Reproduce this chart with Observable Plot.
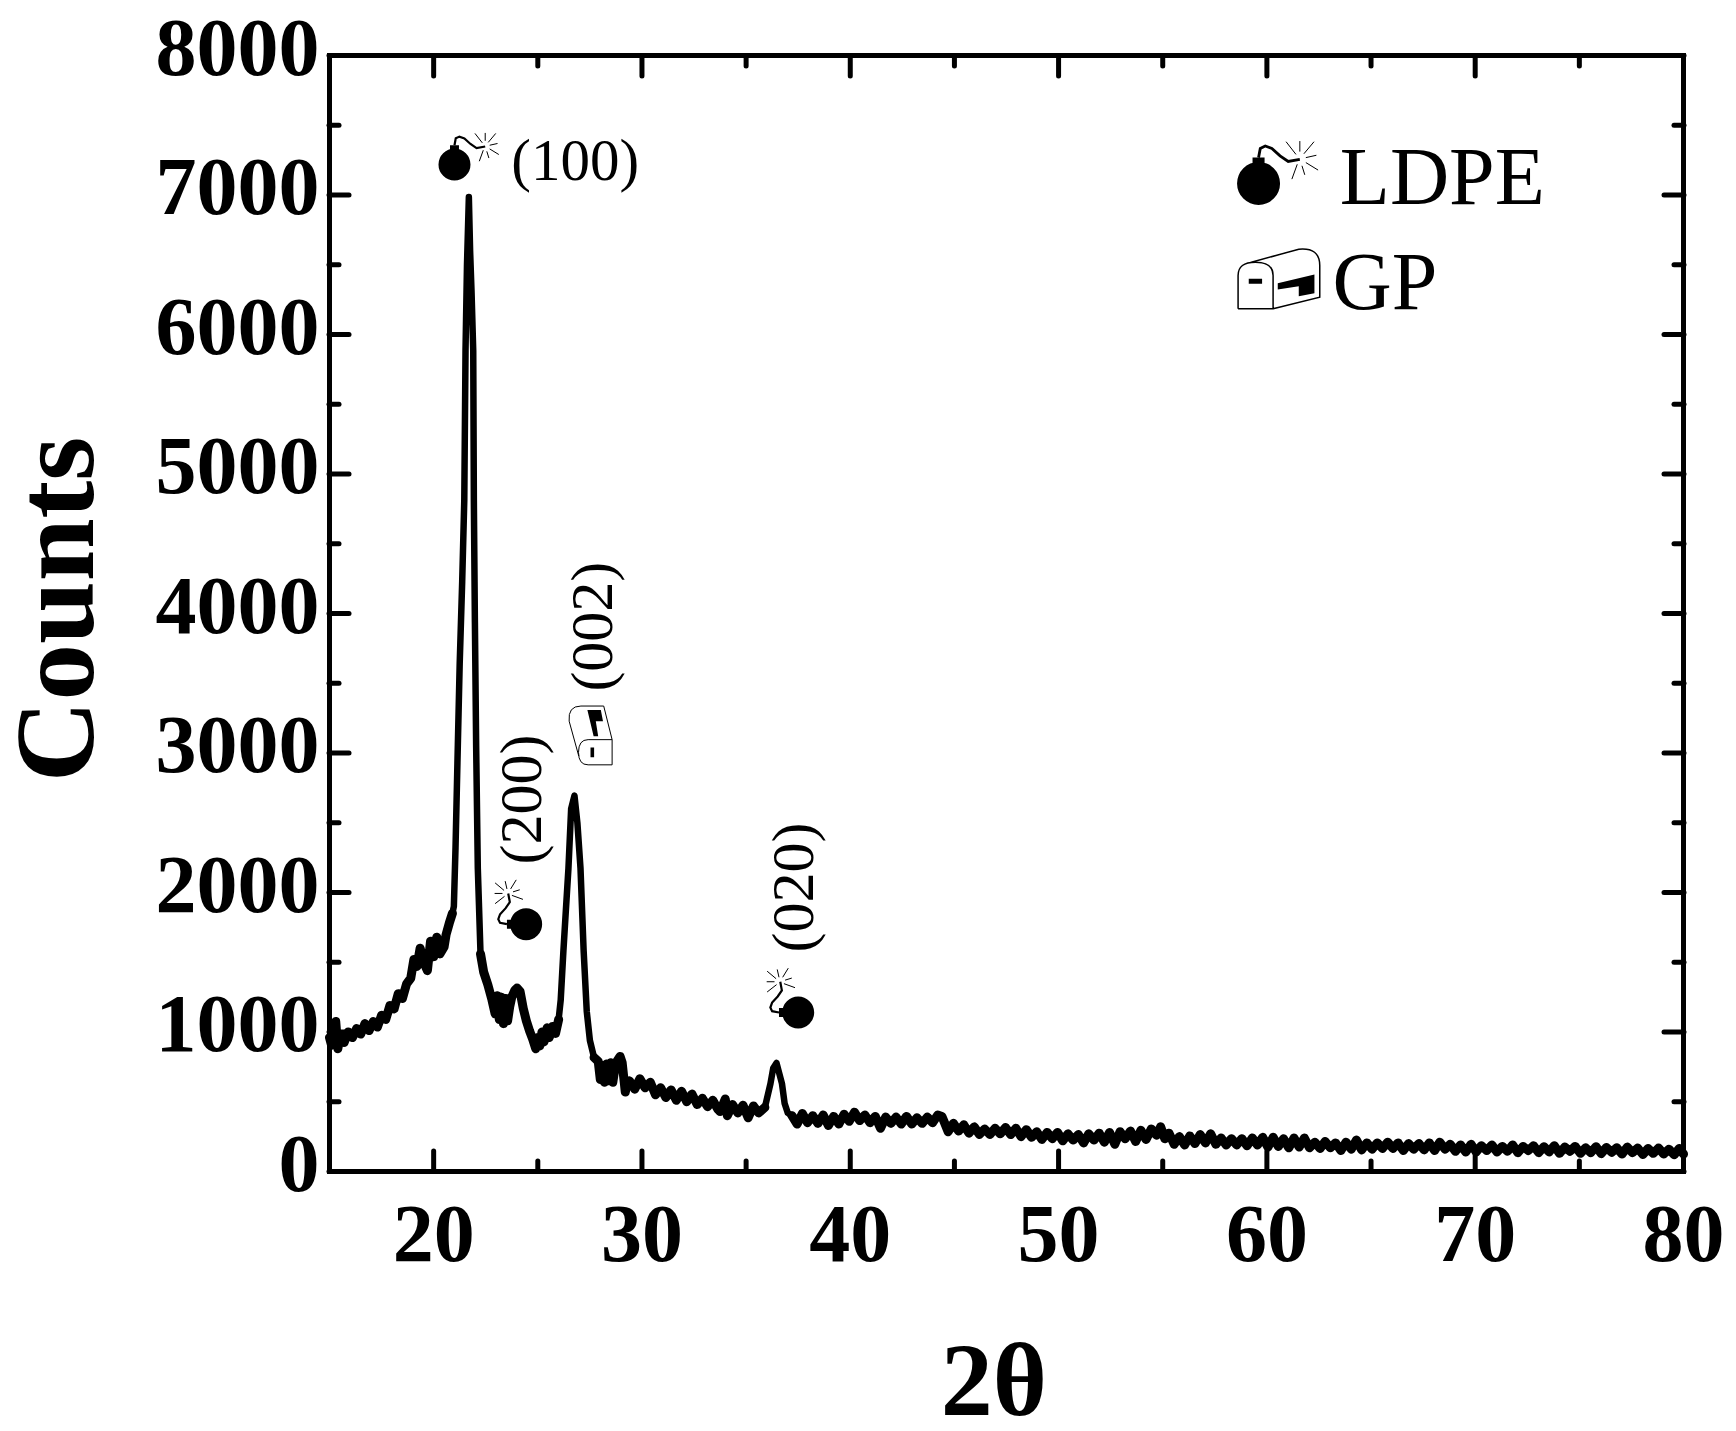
<!DOCTYPE html>
<html>
<head>
<meta charset="utf-8">
<script src="https://cdn.jsdelivr.net/npm/d3@7"></script>
<script src="https://cdn.jsdelivr.net/npm/@observablehq/plot@0.6"></script>
<style>html,body{margin:0;padding:0;background:#fff}svg{display:block}</style>
</head>
<body>
<div id="chart"></div>
<script>
// [2theta, counts]
const amorphousHump = [[15,960],[15.1,905],[15.2,1000],[15.3,1075],[15.4,880],[15.5,960],[15.7,925],[15.9,1000],[16.1,960],[16.3,1025],[16.5,985],[16.7,1060],[16.9,1010],[17.1,1075],[17.3,1035],[17.5,1120],[17.7,1090],[17.9,1190],[18.1,1165],[18.3,1275],[18.5,1240],[18.7,1345],[18.9,1385],[19.05,1520],[19.2,1470],[19.35,1600],[19.55,1490],[19.7,1440],[19.85,1650],[20,1540],[20.15,1680],[20.3,1560],[20.5,1610],[20.6,1700],[20.75,1780],[20.9,1850]];
const peak100 = [[20.9,1850],[20.97,1900],[21.05,2322],[21.16,3053],[21.25,3641],[21.37,4229],[21.47,4810],[21.53,5885],[21.6,6500],[21.69,6985],[21.75,6600],[21.82,6300],[21.9,5885],[21.93,4810],[21.98,3935],[22.04,3050],[22.12,2172],[22.25,1560]];
const peak200 = [[22.25,1560],[22.4,1430],[22.6,1340],[22.8,1230],[22.95,1130],[23.05,1260],[23.15,1090],[23.25,1250],[23.35,1060],[23.45,1240],[23.55,1080],[23.65,1180],[23.75,1250],[23.9,1300],[24,1315],[24.15,1290],[24.3,1170],[24.45,1080],[24.6,1010],[24.75,950],[24.9,880],[25,960],[25.1,900],[25.2,1000],[25.3,930],[25.45,1030],[25.55,960],[25.7,1040],[25.85,990],[26,1090]];
const peak002 = [[26,1090],[26.1,1230],[26.23,1584],[26.35,1880],[26.47,2172],[26.6,2600],[26.76,2695],[26.9,2500],[27.05,2172],[27.2,1584],[27.35,1147],[27.5,940],[27.7,817]];
const shoulder = [[27.7,817],[27.9,790],[28,660],[28.1,760],[28.2,640],[28.3,770],[28.4,650],[28.5,780],[28.6,640],[28.7,740],[28.8,790],[28.95,825],[29.05,780],[29.15,640],[29.2,570],[29.3,640]];
const midBackground = [[29.3,640],[29.4,650],[29.65,590],[29.9,665],[30.15,600],[30.4,640],[30.65,550],[30.9,600],[31.15,530],[31.4,585],[31.65,510],[31.9,575],[32.15,500],[32.4,555],[32.65,480],[32.9,525],[33.15,465],[33.4,510],[33.65,445],[33.75,430],[34,520],[34.1,400],[34.35,480],[34.6,420],[34.85,475],[35.1,385],[35.35,470],[35.6,420],[35.9,459]];
const peak020 = [[35.9,459],[36.17,631],[36.3,740],[36.46,778],[36.72,631],[36.85,487],[37,420],[37.2,400]];
const tailA = [[37.2,400],[37.45,340],[37.7,415],[37.95,350],[38.2,400],[38.45,345],[38.7,405],[38.95,330],[39.2,395],[39.45,340],[39.7,410],[39.95,360],[40.2,425],[40.45,365],[40.7,405],[40.95,350],[41.2,395],[41.45,310],[41.7,390],[41.95,345],[42.2,390],[42.45,340],[42.7,395],[42.95,340],[43.2,385],[43.45,345],[43.7,390],[43.95,350],[44.2,405],[44.4,395],[44.55,340],[44.7,285],[44.95,345],[45.2,290],[45.45,335],[45.7,275],[45.95,320],[46.2,265],[46.45,305],[46.7,265],[46.95,310]];
const tailB = [[47.2,270],[47.45,315],[47.7,265],[47.95,310],[48.2,250],[48.45,300],[48.7,245],[48.95,285],[49.2,230],[49.45,280],[49.7,235],[49.95,280],[50.2,220],[50.45,270],[50.7,225],[50.95,265],[51.2,205],[51.45,270],[51.7,225],[51.95,275],[52.2,210],[52.45,280],[52.7,195],[52.95,285],[53.2,235],[53.45,290],[53.7,215],[53.95,295],[54.2,230],[54.45,305],[54.7,260],[54.9,320],[55.1,235],[55.3,275],[55.55,195],[55.8,250],[56.05,190],[56.3,255],[56.55,200],[56.8,265],[57.05,205],[57.3,270],[57.55,195],[57.8,240],[58.05,190],[58.3,235],[58.55,190],[58.8,235],[59.05,185],[59.3,240],[59.55,190],[59.8,245]];
const tailC = [[60.05,175],[60.3,245],[60.55,180],[60.8,235],[61.05,170],[61.3,240],[61.55,175],[61.8,240],[62.05,170],[62.3,210],[62.55,165],[62.8,215],[63.05,170],[63.3,205],[63.55,150],[63.8,210],[64.05,160],[64.3,225],[64.55,155],[64.8,205],[65.05,160],[65.3,205],[65.55,165],[65.8,210],[66.05,165],[66.3,205],[66.55,150],[66.8,200],[67.05,160],[67.3,200],[67.55,155],[67.8,205],[68.05,150],[68.3,210],[68.55,160],[68.8,195],[69.05,145],[69.3,190],[69.55,140],[69.8,195]];
const tailD = [[70.05,140],[70.3,185],[70.55,150],[70.8,190],[71.05,140],[71.3,180],[71.55,145],[71.8,190],[72.05,135],[72.3,180],[72.55,150],[72.8,185],[73.05,135],[73.3,178],[73.55,140],[73.8,185],[74.05,130],[74.3,175],[74.55,145],[74.8,180],[75.05,130],[75.3,170],[75.55,135],[75.8,178],[76.05,128],[76.3,172],[76.55,138],[76.8,170],[77.05,125],[77.3,175],[77.55,135],[77.8,168],[78.05,122],[78.3,165],[78.55,130],[78.8,168],[79.05,125],[79.3,160],[79.55,120],[79.8,165],[80,125]];
// Narrow peaks keep the thin pen; noisy stretches read as a wider band
const thinParts = [peak100, peak002, peak020];
const bandParts = [amorphousHump, peak200, shoulder, midBackground, [...tailA, ...tailB, ...tailC, ...tailD]];

const xMajor = [20,30,40,50,60,70,80];
const xMinor = [15,25,35,45,55,65,75];
const yMajor = [0,1000,2000,3000,4000,5000,6000,7000,8000];
const yMinor = [500,1500,2500,3500,4500,5500,6500,7500];

const peakLabels = [
  {text:"(100)", t:23.73, c:7111, turn:0, size:59},
  {text:"(200)", t:25.16, c:2200, turn:-90, size:60},
  {text:"(002)", t:28.57, c:3440, turn:-90, size:60},
  {text:"(020)", t:38.22, c:1570, turn:-90, size:60}
];
const legendLabels = [
  {text:"LDPE", t:63.5, c:6939},
  {text:"GP", t:63.15, c:6186}
];
const bombs = [
  {t:21.0, c:7219, r:16, turn:0, fuse:2.2},
  {t:24.44, c:1773, r:16, turn:-90, fuse:2.2},
  {t:37.5, c:1140, r:16, turn:-90, fuse:2.2},
  {t:59.6, c:7083, r:21.5, turn:0, fuse:2.8}
];
const mailboxes = [
  {t:27.53, c:3125, r:15.6, turn:-90, line:1},
  {t:60.57, c:6399, r:21.67, turn:0, line:1.5}
];

// Glyph outlines, in units of the glyph radius
const unit = (size) => Math.sqrt(size / Math.PI);
const bombBody = {draw(ctx, size) {
  const r = unit(size);
  ctx.moveTo(r, 0); ctx.arc(0, 0, r, 0, 2 * Math.PI); ctx.closePath();
  ctx.moveTo(-0.28*r, -0.9*r); ctx.lineTo(-0.28*r, -1.2*r); ctx.lineTo(0.28*r, -1.2*r); ctx.lineTo(0.28*r, -0.9*r); ctx.closePath();
}};
const fusePts = [[0,-1.2],[0.08,-1.63],[0.31,-1.74],[0.62,-1.63],[1,-1.28],[1.38,-1.02],[1.92,-1.12]];
const bombFuse = {draw(ctx, size) {
  const r = unit(size);
  fusePts.forEach(([x,y],i) => i ? ctx.lineTo(x*r,y*r) : ctx.moveTo(x*r,y*r));
}};
const sparkRays = [[[1.28,-1.94],[1.74,-1.35]],[[1.92,-1.97],[1.92,-1.48]],[[2.58,-1.94],[2.11,-1.38]],[[2.69,-1.31],[2.2,-1.2]],[[2.77,-0.62],[2.2,-0.97]],[[2.15,-0.4],[2.02,-0.82]],[[1.55,-0.2],[1.8,-0.89]]];
const bombSpark = {draw(ctx, size) {
  const r = unit(size);
  sparkRays.forEach(([a,b]) => { ctx.moveTo(a[0]*r,a[1]*r); ctx.lineTo(b[0]*r,b[1]*r); });
}};
const mailOutline = {draw(ctx, size) {
  const r = unit(size);
  const s = r / 65;
  const M=(x,y)=>ctx.moveTo((x-235)*s,(y-505)*s), L=(x,y)=>ctx.lineTo((x-235)*s,(y-505)*s),
        Q=(a,b,x,y)=>ctx.quadraticCurveTo((a-235)*s,(b-505)*s,(x-235)*s,(y-505)*s);
  M(113,595); L(113,495); Q(113,455,165,455); Q(218,455,218,495); L(218,595); L(113,595);
  M(150,456); L(295,416); Q(358,410,358,465); L(358,560); L(218,595);
}};
const mailInk = {draw(ctx, size) {
  const r = unit(size);
  const s = r / 65;
  const M=(x,y)=>ctx.moveTo((x-235)*s,(y-505)*s), L=(x,y)=>ctx.lineTo((x-235)*s,(y-505)*s);
  M(232,518); L(342,492); L(342,548); L(295,557); L(295,527); L(232,537); ctx.closePath();
  M(145,505); L(185,505); L(185,520); L(145,520); ctx.closePath();
}};

const serif = "'Liberation Serif'";
const tickStyle = {stroke:"#000", strokeWidth:5, strokeLinecap:"round", label:null};
const labelStyle = {fontFamily:serif, fontWeight:"bold", fontSize:82, tickSize:0, label:null, fill:"#000"};
const penStyle = {x:"0", y:"1", stroke:"#000", strokeLinejoin:"round", strokeLinecap:"round"};

const chart = Plot.plot({
  width:1736, height:1431,
  marginLeft:329, marginRight:53, marginTop:55, marginBottom:260,
  style:{background:"#fff", fontFamily:serif, color:"#000"},
  x:{domain:[15,80]},
  y:{domain:[0,8000]},
  r:{type:"identity"},
  marks:[
    Plot.axisX(xMajor, {...tickStyle, anchor:"bottom", tickSize:-20, text:null}),
    Plot.axisX(xMinor, {...tickStyle, anchor:"bottom", tickSize:-10, text:null}),
    Plot.axisX(xMajor, {...tickStyle, anchor:"top", tickSize:-20, text:null}),
    Plot.axisX(xMinor, {...tickStyle, anchor:"top", tickSize:-10, text:null}),
    Plot.axisY(yMajor, {...tickStyle, anchor:"left", tickSize:-20, text:null}),
    Plot.axisY(yMinor, {...tickStyle, anchor:"left", tickSize:-10, text:null}),
    Plot.axisY(yMajor, {...tickStyle, anchor:"right", tickSize:-20, text:null}),
    Plot.axisY(yMinor, {...tickStyle, anchor:"right", tickSize:-10, text:null}),
    Plot.axisX(xMajor, {...labelStyle, anchor:"bottom", tickPadding:31, tickFormat:"d"}),
    Plot.axisY(yMajor, {...labelStyle, anchor:"left", tickPadding:10, tickFormat:"d", dy:-7}),
    Plot.frame({stroke:"#000", strokeWidth:5}),
    ...thinParts.map((part) => Plot.line(part, {...penStyle, strokeWidth:6.5})),
    ...bandParts.map((part) => Plot.line(part, {...penStyle, strokeWidth:9})),
    Plot.dot(bombs, {x:"t", y:"c", r:"r", rotate:"turn", symbol:bombBody, fill:"#000", stroke:"none"}),
    Plot.dot(bombs, {x:"t", y:"c", r:"r", rotate:"turn", symbol:bombFuse, fill:"none", stroke:"#000", strokeWidth:"fuse"}),
    Plot.dot(bombs, {x:"t", y:"c", r:"r", rotate:"turn", symbol:bombSpark, fill:"none", stroke:"#000", strokeWidth:1}),
    Plot.dot(mailboxes, {x:"t", y:"c", r:"r", rotate:"turn", symbol:mailOutline, fill:"none", stroke:"#000", strokeWidth:"line"}),
    Plot.dot(mailboxes, {x:"t", y:"c", r:"r", rotate:"turn", symbol:mailInk, fill:"#000", stroke:"none"}),
    Plot.text(peakLabels, {x:"t", y:"c", text:"text", rotate:"turn", fontSize:"size", fontFamily:serif, textAnchor:"start", lineAnchor:"bottom", fill:"#000"}),
    Plot.text(legendLabels, {x:"t", y:"c", text:"text", fontSize:82, fontFamily:serif, textAnchor:"start", lineAnchor:"bottom", fill:"#000"}),
    Plot.text(["Counts"], {frameAnchor:"left", dx:-237, dy:-4, rotate:-90, fontSize:113, fontWeight:"bold", fontFamily:serif, textAnchor:"middle", lineAnchor:"bottom", fill:"#000"}),
    Plot.text(["2θ"], {x:[46.9], y:[-1749], text:["2θ"], fontSize:104, fontWeight:"bold", fontFamily:serif, textAnchor:"middle", lineAnchor:"bottom", fill:"#000"})
  ]
});
document.getElementById("chart").appendChild(chart);
</script>
</body>
</html>
